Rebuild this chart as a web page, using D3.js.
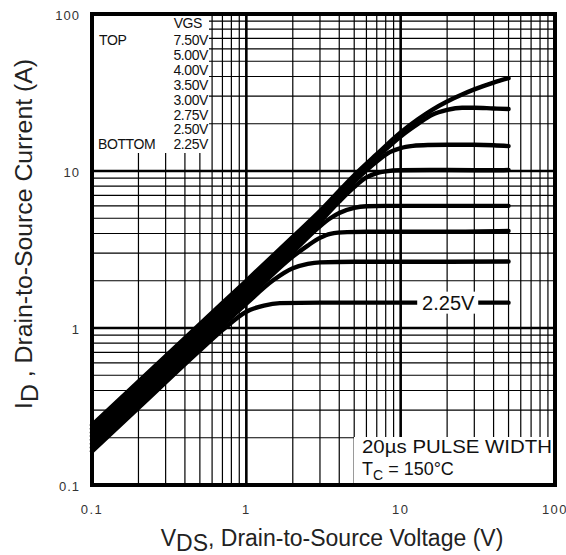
<!DOCTYPE html>
<html>
<head>
<meta charset="utf-8">
<script src="https://cdn.jsdelivr.net/npm/d3@7"></script>
<style>
  body { margin:0; background:#fff; }
  text { font-family: "Liberation Sans", Arial, sans-serif; }
</style>
</head>
<body>
<script>
// Vds (V) -> Id (A) for each gate voltage
var vgsLabels = ["7.50V","5.00V","4.00V","3.50V","3.00V","2.75V","2.50V","2.25V"];
var curve750 = [[0.1,0.241],[0.2,0.455],[0.5,1.06],[1,2.0],[2,3.8],[3,5.55],[5,9.4],[7,12.8],[10,17.6],[13,21.4],[16,24.5],[20,27.7],[25,30.7],[30,33.1],[40,36.6],[50,39]];
var curve500 = [[0.1,0.228],[0.2,0.43],[0.5,1.0],[1,1.89],[2,3.6],[3,5.25],[5,9.0],[7,12.2],[10,16.6],[13,20.0],[16,22.8],[20,24.5],[25,25.3],[30,25.3],[40,25.0],[50,24.8]];
var curve400 = [[0.1,0.216],[0.2,0.41],[0.5,0.95],[1,1.79],[2,3.4],[3,4.95],[5,8.55],[7,11.5],[8.5,13.2],[10,14.0],[12,14.45],[15,14.65],[20,14.7],[30,14.7],[40,14.6],[50,14.4]];
var curve350 = [[0.1,0.205],[0.2,0.39],[0.5,0.9],[1,1.7],[2,3.2],[3,4.75],[4,6.4],[5,7.9],[6,9.1],[7,9.7],[8,9.95],[10,10.1],[20,10.15],[40,10.1],[50,10.15]];
var curve300 = [[0.1,0.194],[0.2,0.37],[0.5,0.85],[1,1.61],[2,3.05],[3,4.45],[3.5,5.0],[4,5.4],[5,5.82],[6,5.96],[8,6.0],[20,6.0],[50,6.0]];
var curve275 = [[0.1,0.183],[0.2,0.35],[0.5,0.81],[1,1.52],[2,2.85],[2.5,3.35],[3,3.75],[3.5,3.98],[4.5,4.08],[6,4.1],[20,4.1],[50,4.15]];
var curve250 = [[0.1,0.173],[0.2,0.33],[0.5,0.76],[1,1.43],[1.5,2.02],[2,2.4],[2.5,2.56],[3,2.62],[5,2.64],[20,2.64],[50,2.65]];
var curve225 = [[0.1,0.164],[0.2,0.31],[0.5,0.72],[0.7,0.97],[1,1.27],[1.3,1.39],[1.65,1.44],[3,1.45],[20,1.45],[50,1.45]];
var curves = [curve750, curve500, curve400, curve350, curve300, curve275, curve250, curve225];
var tickLabels = ["0.1","1","10","100"];

var w = 566, h = 555;
var pL = 92, pR = 555, pT = 14, pB = 485;

var svg = d3.select("body").append("svg")
    .attr("width", w).attr("height", h);

var x = d3.scaleLog().domain([0.1,100]).range([pL,pR]);
var y = d3.scaleLog().domain([0.1,100]).range([pB,pT]);

function isMajor(v){ return Math.abs(Math.log10(v) - Math.round(Math.log10(v))) < 1e-6; }

// grid
var g = svg.append("g");
g.selectAll(".vx").data(x.ticks()).enter().append("line")
    .attr("x1", function(d){ return x(d); }).attr("x2", function(d){ return x(d); })
    .attr("y1", pT).attr("y2", pB)
    .attr("stroke", "#000")
    .attr("stroke-width", function(d){ return isMajor(d) ? 2.6 : 1.2; });
g.selectAll(".hy").data(y.ticks()).enter().append("line")
    .attr("y1", function(d){ return y(d); }).attr("y2", function(d){ return y(d); })
    .attr("x1", pL).attr("x2", pR)
    .attr("stroke", "#000")
    .attr("stroke-width", function(d){ return isMajor(d) ? 2.6 : 1.2; });

// white boxes for legend and note
svg.append("rect").attr("x", pL).attr("y", pT).attr("width", 117).attr("height", 139).attr("fill", "#fff");
svg.append("rect").attr("x", 354).attr("y", 437).attr("width", pR-354).attr("height", pB-437).attr("fill", "#fff");

// curves
var line = d3.line()
    .x(function(d){ return x(d[0]); })
    .y(function(d){ return y(d[1]); })
    .curve(d3.curveMonotoneX);

svg.selectAll(".curve").data(curves).enter().append("path")
    .attr("d", line)
    .attr("fill", "none")
    .attr("stroke", "#000")
    .attr("stroke-width", 4.4)
    .attr("stroke-linecap", "round");

// 2.25V label on its curve
var lastPt = curve225[curve225.length-1];
svg.append("rect").attr("x", x(12.8)).attr("y", y(lastPt[1]) - 11).attr("width", 61).attr("height", 22).attr("fill", "#fff");
svg.append("text").attr("x", x(12.8) + 31).attr("y", y(lastPt[1]) + 7)
    .attr("text-anchor", "middle").attr("font-size", 20).attr("fill", "#111")
    .text("2.25V");

// frame
svg.append("rect").attr("x", pL).attr("y", pT).attr("width", pR-pL).attr("height", pB-pT)
    .attr("fill", "none").attr("stroke", "#000").attr("stroke-width", 4);

// legend
var leg = svg.append("g").attr("font-size", 14).attr("fill", "#111").attr("letter-spacing", -0.4);
leg.append("text").attr("x", 202).attr("y", 28).attr("text-anchor", "end").text("VGS");
leg.selectAll(".lv").data(vgsLabels).enter().append("text")
    .attr("x", 208).attr("y", function(d,i){ return 45 + i*14.9; })
    .attr("text-anchor", "end").text(function(d){ return d; });
leg.append("text").attr("x", 99).attr("y", 45).text("TOP");
leg.append("text").attr("x", 98).attr("y", 149).text("BOTTOM");

// note
svg.append("text").attr("x", 362).attr("y", 453).attr("font-size", 18).attr("fill", "#111")
    .attr("textLength", 190).attr("lengthAdjust", "spacingAndGlyphs").text("20\u00b5s PULSE WIDTH");
var tc = svg.append("text").attr("x", 362).attr("y", 475).attr("font-size", 18).attr("fill", "#111");
tc.append("tspan").text("T");
tc.append("tspan").attr("font-size", 14).attr("dy", 5).text("C");
tc.append("tspan").attr("dy", -5).text(" = 150\u00b0C");

// tick labels
var tickVals = [0.1,1,10,100];
svg.selectAll(".xt").data(tickVals).enter().append("text")
    .attr("x", function(d){ return x(d); }).attr("y", 514)
    .attr("text-anchor", "middle").attr("font-size", 13).attr("fill", "#333").attr("letter-spacing", 1.5)
    .text(function(d,i){ return tickLabels[i]; });
svg.selectAll(".yt").data(tickVals).enter().append("text")
    .attr("x", 80).attr("y", function(d){ return y(d) + 6; })
    .attr("text-anchor", "end").attr("font-size", 13).attr("fill", "#333").attr("letter-spacing", 1)
    .text(function(d,i){ return tickLabels[i]; });

// axis titles
var xt = svg.append("text").attr("x", 332).attr("y", 546).attr("text-anchor", "middle")
    .attr("font-size", 23).attr("fill", "#222");
xt.append("tspan").text("V");
xt.append("tspan").attr("dy", 5).text("DS");
xt.append("tspan").attr("dy", -5).text(", Drain-to-Source Voltage (V)");

var yt = svg.append("text").attr("transform", "translate(32,234) rotate(-90)").attr("text-anchor", "middle")
    .attr("font-size", 23).attr("fill", "#222")
    .attr("textLength", 350).attr("lengthAdjust", "spacingAndGlyphs");
yt.append("tspan").text("I");
yt.append("tspan").attr("dy", 6).text("D");
yt.append("tspan").attr("dy", -6).text(" , Drain-to-Source Current (A)");
</script>
</body>
</html>
